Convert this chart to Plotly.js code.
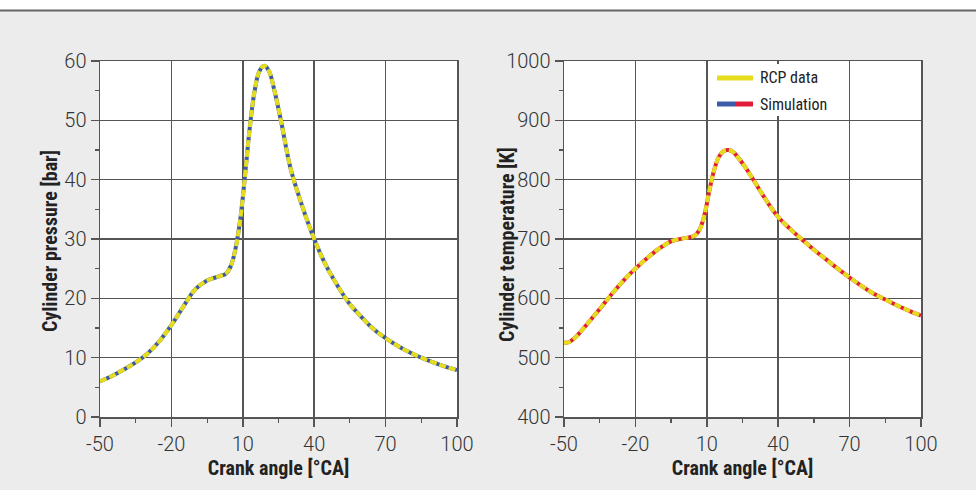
<!DOCTYPE html>
<html>
<head>
<meta charset="utf-8">
<script src="https://cdn.plot.ly/plotly-3.0.1.min.js"></script>
<style>html,body{margin:0;padding:0;background:#ececec;}</style>
</head>
<body>
<div id="chart" style="width:976px;height:490px;"></div>
<script>
// Cylinder pressure (left panel)
const pressureAngle = [-50,-45,-40,-35,-30,-25,-20,-15,-10,-5,0,3,5,7,9,11,13,15,17,19,21,23,26,30,35,40,45,50,55,60,65,70,75,80,85,90,95,100];
const pressureRCP   = [6.0,6.9,8.0,9.2,10.7,12.8,15.5,18.6,21.5,23.0,23.7,24.2,25.5,28.5,33.5,41,49,55,58.3,59.2,58.3,55.5,50,42,35.5,30,25.5,22,19,16.8,14.8,13.3,12.0,10.9,10.0,9.2,8.5,7.9];
const pressureSim   = [6.0,6.9,8.0,9.2,10.7,12.8,15.5,18.6,21.5,23.0,23.7,24.2,25.5,28.5,33.5,41,49,55,58.3,59.2,58.3,55.5,50,42,35.5,30,25.5,22,19,16.8,14.8,13.3,12.0,10.9,10.0,9.2,8.5,7.9];

// Cylinder temperature (right panel)
const tempAngle = [-50,-48,-45,-40,-35,-30,-25,-20,-15,-10,-5,0,3,5,7,9,11,13,15,17,19,21,23,26,30,35,40,45,50,55,60,65,70,75,80,85,90,95,100];
const tempRCP   = [525,526,535,558,582,607,630,650,668,684,696,701,703,706,716,740,780,815,838,848,850,847,838,822,797,765,737,717,699,682,666,650,635,621,608,598,588,579,571];
const tempSim   = [525,526,535,558,582,607,630,650,668,684,696,701,703,706,716,740,780,815,838,848,850,847,838,822,797,765,737,717,699,682,666,650,635,621,608,598,588,579,571];

const xTicks = [-50,-20,10,40,70,100];
const pTicks = [0,10,20,30,40,50,60];
const tTicks = [400,500,600,700,800,900,1000];
const legendNames = ['RCP data','Simulation'];
const xTitle = 'Crank angle [°CA]';
const yTitles = ['Cylinder pressure [bar]','Cylinder temperature [K]'];

const YELLOW = '#e6dc1e', BLUE = '#3c5aa6', RED = '#e01e3c', GRID = '#555555';
const TICKFONT = 'Roboto, "Open Sans", sans-serif';
const BOLDFONT = '"Roboto Condensed", "Liberation Sans Narrow", Roboto, sans-serif';

const traces = [
  {x: pressureAngle, y: pressureSim, xaxis:'x', yaxis:'y', mode:'lines', line:{color:BLUE, width:4, shape:'spline', smoothing:1.1}, showlegend:false, hoverinfo:'none'},
  {x: pressureAngle, y: pressureRCP, xaxis:'x', yaxis:'y', mode:'lines', line:{color:YELLOW, width:4, dash:'7px,3px', shape:'spline', smoothing:1.1}, showlegend:false, hoverinfo:'none'},
  {x: tempAngle, y: tempSim, xaxis:'x2', yaxis:'y2', mode:'lines', line:{color:RED, width:4, shape:'spline'}, showlegend:false, hoverinfo:'none'},
  {x: tempAngle, y: tempRCP, xaxis:'x2', yaxis:'y2', mode:'lines', line:{color:YELLOW, width:4, dash:'7px,3px', shape:'spline'}, showlegend:false, hoverinfo:'none'}
];

const L = 100, R = 55, T = 61, B = 73, W = 976, H = 490;
const pw = W - L - R, ph = H - T - B;
const px = v => (v - L) / pw;
const py = v => (H - B - v) / ph;

function xAxis(domain, anchor) {
  return {
    domain: domain, anchor: anchor, range:[-50,100], tickvals: xTicks, ticktext: xTicks.map(String),
    showgrid:true, gridcolor:GRID, gridwidth:1.5, zeroline:false,
    showline:true, linecolor:GRID, linewidth:1.5, mirror:true,
    ticks:'outside', ticklen:8, tickcolor:GRID, tickwidth:1.5,
    minor:{tickvals:[-35,-5,25,55,85], ticks:'outside', ticklen:4, tickcolor:GRID, tickwidth:1.2, showgrid:false},
    tickfont:{family:TICKFONT, size:20, color:'#333', weight:300},
    title:{text:xTitle, font:{family:BOLDFONT, size:20, color:'#222', weight:'bold'}, standoff:5}
  };
}
function yAxis(domain, anchor, range, ticks, minorTicks) {
  return {
    domain: domain, anchor: anchor, range: range, tickvals: ticks, ticktext: ticks.map(String),
    showgrid:true, gridcolor:GRID, gridwidth:1.5, zeroline:false,
    showline:true, linecolor:GRID, linewidth:1.5, mirror:true,
    ticks:'outside', ticklen:8, tickcolor:GRID, tickwidth:1.5,
    minor:{tickvals:minorTicks, ticks:'outside', ticklen:4, tickcolor:GRID, tickwidth:1.2, showgrid:false},
    tickfont:{family:TICKFONT, size:20, color:'#333', weight:300}
  };
}

const layout = {
  width:W, height:H,
  margin:{l:L, r:R, t:T, b:B},
  paper_bgcolor:'#ececec', plot_bgcolor:'#ffffff',
  showlegend:false,
  xaxis: xAxis([0, px(457)], 'y'),
  yaxis: yAxis([0,1], 'x', [0,60], pTicks, [5,15,25,35,45,55]),
  xaxis2: xAxis([px(564), 1], 'y2'),
  yaxis2: yAxis([0,1], 'x2', [400,1000], tTicks, [450,550,650,750,850,950]),
  shapes: [
    {type:'rect', xref:'paper', yref:'paper', x0:px(0)-0.01, x1:px(W)+0.01, y0:py(10), y1:py(-2), fillcolor:'#ffffff', line:{width:0}, layer:'above'},
    {type:'line', xref:'paper', yref:'paper', x0:px(0)-0.01, x1:px(W)+0.01, y0:py(10.5), y1:py(10.5), line:{color:'#666', width:2}, layer:'above'},
    {type:'rect', xref:'paper', yref:'paper', x0:px(708), x1:px(846), y0:py(116), y1:py(64), fillcolor:'#ffffff', line:{width:0}, layer:'above'},
    {type:'line', xref:'paper', yref:'paper', x0:px(717), x1:px(753), y0:py(78), y1:py(78), line:{color:YELLOW, width:5}, layer:'above'},
    {type:'line', xref:'paper', yref:'paper', x0:px(717), x1:px(735), y0:py(104), y1:py(104), line:{color:BLUE, width:5}, layer:'above'},
    {type:'line', xref:'paper', yref:'paper', x0:px(735), x1:px(753), y0:py(104), y1:py(104), line:{color:RED, width:5}, layer:'above'}
  ],
  annotations: [
    {xref:'paper', yref:'paper', x:px(758), y:py(78), xanchor:'left', yanchor:'middle', text:legendNames[0], showarrow:false, font:{family:BOLDFONT, size:16, color:'#222'}},
    {xref:'paper', yref:'paper', x:px(758), y:py(104), xanchor:'left', yanchor:'middle', text:legendNames[1], showarrow:false, font:{family:BOLDFONT, size:16, color:'#222'}},
    {xref:'paper', yref:'paper', x:px(50), y:py(241), xanchor:'center', yanchor:'middle', textangle:-90, text:yTitles[0], showarrow:false, font:{family:BOLDFONT, size:20, color:'#222', weight:'bold'}},
    {xref:'paper', yref:'paper', x:px(507), y:py(245), xanchor:'center', yanchor:'middle', textangle:-90, text:yTitles[1], showarrow:false, font:{family:BOLDFONT, size:20, color:'#222', weight:'bold'}}
  ]
};

Plotly.newPlot('chart', traces, layout, {displayModeBar:false, staticPlot:true});
</script>
</body>
</html>
